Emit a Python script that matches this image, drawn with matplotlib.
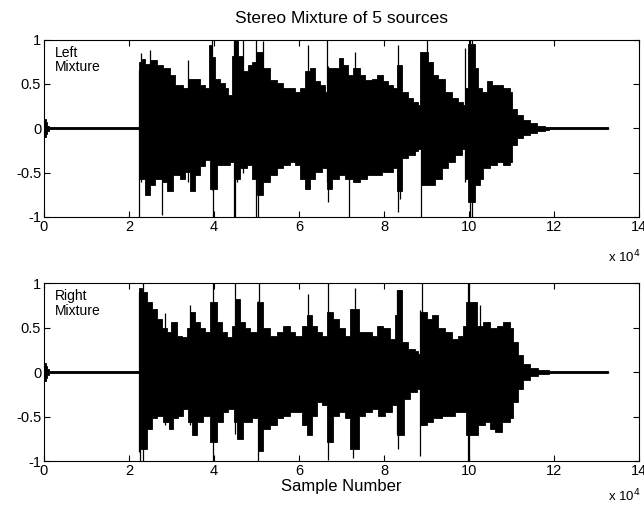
import numpy as np
import matplotlib
matplotlib.use("Agg")
import matplotlib.pyplot as plt

plt.rcParams['font.family'] = ['Liberation Sans', 'DejaVu Sans']

# sample number (x 10^4) and amplitude envelope
left_up_x = [0, 0.04, 0.08, 0.12, 2.23, 2.30, 2.38, 2.50, 2.65, 2.81, 2.97, 3.08, 3.28, 3.40, 3.51,
             3.67, 3.79, 3.89, 3.95, 4.02, 4.14, 4.26, 4.34, 4.42, 4.50, 4.57, 4.69, 4.81, 4.89,
             4.99, 5.16, 5.32, 5.48, 5.63, 5.79, 5.91, 6.02, 6.14, 6.26, 6.38, 6.49, 6.61, 6.69,
             6.77, 6.93, 7.04, 7.16, 7.28, 7.44, 7.55, 7.71, 7.83, 7.98, 8.10, 8.22, 8.30, 8.42,
             8.57, 8.69, 8.81, 8.85, 9.04, 9.16, 9.28, 9.44, 9.59, 9.75, 9.87, 9.91, 9.98, 10.14,
             10.22, 10.30, 10.42, 10.53, 10.65, 10.81, 10.96, 11.00, 11.12, 11.28, 11.44, 11.59,
             11.79, 11.87, 13.28]
left_up_y = [0.10, 0.07, 0.03, 0.012, 0.75, 0.78, 0.72, 0.77, 0.71, 0.68, 0.60, 0.49, 0.45, 0.56, 0.56,
             0.49, 0.45, 0.94, 0.80, 0.56, 0.51, 0.45, 0.38, 0.81, 0.98, 0.81, 0.64, 0.71, 0.75,
             0.86, 0.68, 0.54, 0.51, 0.45, 0.45, 0.41, 0.45, 0.64, 0.68, 0.53, 0.49, 0.41, 0.68,
             0.68, 0.79, 0.71, 0.60, 0.68, 0.60, 0.54, 0.56, 0.60, 0.53, 0.49, 0.45, 0.71, 0.41,
             0.34, 0.30, 0.26, 0.86, 0.75, 0.60, 0.56, 0.41, 0.34, 0.30, 0.26, 0.45, 0.95, 0.68,
             0.45, 0.41, 0.53, 0.49, 0.49, 0.45, 0.41, 0.22, 0.15, 0.09, 0.056, 0.03,
             0.018, 0.012, 0.012]
left_lo_x = [0, 0.04, 0.08, 0.12, 2.23, 2.38, 2.50, 2.61, 2.77, 2.89, 3.04, 3.20, 3.32, 3.44, 3.55,
             3.67, 3.79, 3.91, 4.06, 4.22, 4.38, 4.50, 4.61, 4.77, 4.89, 5.00, 5.16, 5.32, 5.48,
             5.63, 5.79, 5.91, 6.02, 6.14, 6.26, 6.38, 6.53, 6.65, 6.77, 6.93, 7.08, 7.28, 7.44,
             7.59, 7.79, 7.95, 8.10, 8.22, 8.30, 8.42, 8.57, 8.73, 8.81, 8.87, 9.04, 9.20, 9.36,
             9.51, 9.67, 9.83, 9.91, 9.98, 10.14, 10.26, 10.34, 10.49, 10.65, 10.81, 10.96, 11.00,
             11.12, 11.28, 11.44, 11.59, 11.79, 11.87, 13.28]
left_lo_y = [-0.10, -0.07, -0.03, -0.012, -0.57, -0.75, -0.64, -0.57, -0.60, -0.71, -0.53, -0.57, -0.49, -0.71, -0.53,
             -0.43, -0.36, -0.68, -0.41, -0.41, -0.38, -0.57, -0.45, -0.41, -0.57, -0.75, -0.60, -0.53, -0.45,
             -0.41, -0.38, -0.41, -0.57, -0.68, -0.57, -0.49, -0.45, -0.68, -0.57, -0.53, -0.57, -0.60, -0.57,
             -0.53, -0.53, -0.49, -0.49, -0.45, -0.71, -0.34, -0.30, -0.26, -0.23, -0.64, -0.64, -0.57, -0.45,
             -0.38, -0.30, -0.23, -0.57, -0.83, -0.64, -0.57, -0.45, -0.41, -0.38, -0.41, -0.38, -0.19,
             -0.11, -0.08, -0.05, -0.03, -0.015, -0.012, -0.012]
left_spk_x = [2.23, 2.28, 2.50, 2.77, 3.40, 3.95, 3.98, 4.47, 4.50, 4.53, 4.69, 4.99, 5.04, 5.16,
              6.20, 6.65, 6.69, 7.18, 7.32, 8.34, 8.37, 8.87, 9.00, 9.91, 10.02, 10.06]
left_spk_lo = [-1.0, -0.6, -0.6, -0.98, -0.6, -0.7, -1.0, -1.0, -1.0, -0.6, -0.5, -1.0, -1.0, -0.6,
               -0.5, -0.6, -0.83, -1.0, -0.5, -0.94, -0.8, -1.0, -0.6, -0.6, -1.0, -1.0]
left_spk_hi = [0.66, 0.85, 0.88, 0.6, 0.77, 1.0, 0.6, 1.0, 1.0, 1.0, 1.0, 1.0, 0.8, 0.98,
               0.94, 1.0, 0.7, 0.5, 0.86, 0.94, 0.7, 0.7, 1.0, 0.90, 1.0, 1.0]

right_up_x = [0, 0.04, 0.08, 0.12, 2.23, 2.30, 2.42, 2.53, 2.65, 2.77, 2.89, 3.00, 3.12, 3.24, 3.36,
              3.44, 3.55, 3.67, 3.79, 3.91, 4.06, 4.18, 4.30, 4.42, 4.50, 4.61, 4.73, 4.85, 5.00,
              5.16, 5.32, 5.48, 5.63, 5.79, 5.91, 6.06, 6.18, 6.30, 6.42, 6.53, 6.65, 6.81, 6.93,
              7.08, 7.20, 7.40, 7.55, 7.71, 7.83, 7.98, 8.14, 8.26, 8.30, 8.42, 8.57, 8.73, 8.81,
              8.85, 9.00, 9.12, 9.28, 9.44, 9.59, 9.75, 9.87, 9.94, 10.10, 10.18, 10.34, 10.49,
              10.65, 10.81, 10.96, 11.04, 11.16, 11.28, 11.44, 11.63, 11.87, 13.28]
right_up_y = [0.10, 0.07, 0.03, 0.008, 0.94, 0.90, 0.79, 0.71, 0.60, 0.49, 0.45, 0.56, 0.41, 0.39, 0.49,
              0.67, 0.56, 0.49, 0.45, 0.79, 0.56, 0.45, 0.39, 0.52, 0.82, 0.56, 0.49, 0.45, 0.79,
              0.49, 0.41, 0.45, 0.52, 0.45, 0.41, 0.52, 0.64, 0.52, 0.45, 0.41, 0.67, 0.60, 0.49,
              0.41, 0.71, 0.45, 0.45, 0.41, 0.52, 0.49, 0.37, 0.64, 0.92, 0.34, 0.26, 0.24, 0.20,
              0.67, 0.60, 0.64, 0.49, 0.45, 0.37, 0.41, 0.52, 0.79, 0.79, 0.52, 0.56, 0.49,
              0.52, 0.56, 0.49, 0.34, 0.19, 0.09, 0.045, 0.02, 0.008, 0.008]
right_lo_x = [0, 0.04, 0.08, 0.12, 2.23, 2.42, 2.53, 2.65, 2.81, 2.93, 3.04, 3.16, 3.28, 3.40, 3.48,
              3.59, 3.75, 3.91, 4.06, 4.22, 4.34, 4.46, 4.53, 4.69, 4.89, 5.04, 5.16, 5.32, 5.48,
              5.63, 5.79, 5.91, 6.06, 6.18, 6.30, 6.42, 6.53, 6.65, 6.81, 6.93, 7.08, 7.20, 7.40,
              7.55, 7.71, 7.87, 8.02, 8.18, 8.30, 8.46, 8.61, 8.77, 8.85, 9.00, 9.16, 9.36, 9.51,
              9.67, 9.87, 9.94, 10.10, 10.22, 10.38, 10.49, 10.61, 10.77, 10.96, 11.04, 11.16,
              11.28, 11.44, 11.63, 11.87, 13.28]
right_lo_y = [-0.10, -0.07, -0.03, -0.008, -0.86, -0.64, -0.52, -0.49, -0.56, -0.64, -0.52, -0.49, -0.41, -0.56, -0.71,
              -0.56, -0.49, -0.79, -0.56, -0.45, -0.41, -0.56, -0.75, -0.56, -0.52, -0.89, -0.64, -0.60, -0.52,
              -0.49, -0.45, -0.45, -0.60, -0.71, -0.49, -0.34, -0.37, -0.79, -0.49, -0.45, -0.52, -0.86, -0.49,
              -0.45, -0.41, -0.49, -0.45, -0.37, -0.71, -0.30, -0.22, -0.19, -0.60, -0.56, -0.52, -0.49, -0.49,
              -0.45, -0.45, -0.71, -0.71, -0.60, -0.56, -0.64, -0.67, -0.56, -0.52, -0.34, -0.19,
              -0.09, -0.05, -0.026, -0.008, -0.008]
right_spk_x = [2.23, 2.26, 2.34, 2.85, 3.44, 3.97, 4.50, 5.04, 5.06, 6.22, 6.69, 7.28, 7.32, 8.30,
               8.34, 8.85, 8.89, 9.98, 10.00, 10.26]
right_spk_lo = [-0.9, -1.0, -1.0, -0.6, -0.6, -1.0, -0.7, -1.0, -0.8, -0.6, -0.99, -0.97, -0.6, -0.7,
                -0.87, -0.94, -0.6, -1.0, -1.0, -0.6]
right_spk_hi = [0.9, 0.8, 1.0, 0.66, 0.75, 1.0, 1.0, 0.8, 1.0, 0.88, 1.0, 0.7, 0.95, 0.92,
                0.7, 0.7, 1.0, 1.0, 1.0, 0.75]


def steps(x, y):
    # hold each envelope value until the next reading
    xs = np.repeat(np.asarray(x, float), 2)[1:]
    ys = np.repeat(np.asarray(y, float), 2)[:-1]
    return xs, ys


def draw(ax, ux, uy, lx, ly, sx, slo, shi, label, exp_y):
    xu, yu = steps(ux, uy)
    xl, yl = steps(lx, ly)
    ax.fill(np.r_[xu, xl[::-1]], np.r_[yu, yl[::-1]], color='k', lw=0.6, ec='k')
    ax.plot([0, 13.28], [0, 0], color='k', lw=1)
    ax.vlines(sx, slo, shi, color='k', lw=0.9)
    ax.set_xlim(0, 14)
    ax.set_ylim(-1, 1)
    ax.set_xticks(range(0, 15, 2))
    ax.set_yticks([-1, -0.5, 0, 0.5, 1])
    ax.set_yticklabels(['-1', '-0.5', '0', '0.5', '1'])
    ax.tick_params(direction='in', top=True, right=True, length=4, labelsize=10.5, pad=2)
    ax.text(0.018, 0.965, label, transform=ax.transAxes, va='top', ha='left', fontsize=10,
            linespacing=1.05)
    ax.text(1.003, exp_y, r'x 10$^{4}$', transform=ax.transAxes, va='top', ha='right', fontsize=9.5)


fig = plt.figure(figsize=(6.44, 5.07), dpi=100)
ax1 = fig.add_axes([0.0683, 0.572, 0.924, 0.350])
ax2 = fig.add_axes([0.0683, 0.0907, 0.924, 0.351])

draw(ax1, left_up_x, left_up_y, left_lo_x, left_lo_y, left_spk_x, left_spk_lo, left_spk_hi,
     'Left\nMixture', -0.18)
draw(ax2, right_up_x, right_up_y, right_lo_x, right_lo_y, right_spk_x, right_spk_lo, right_spk_hi,
     'Right\nMixture', -0.15)

ax1.set_title('Stereo Mixture of 5 sources', fontsize=12.5, pad=12)
ax2.set_xlabel('Sample Number', fontsize=12, labelpad=1)

fig.savefig('out.png', dpi=100)
